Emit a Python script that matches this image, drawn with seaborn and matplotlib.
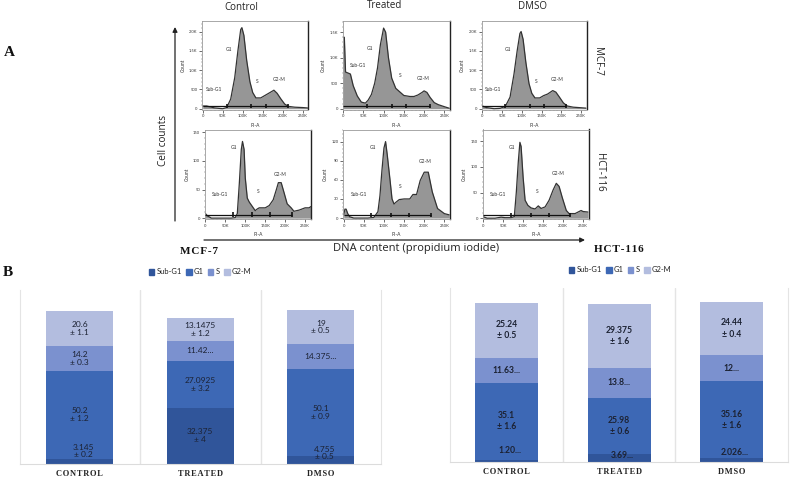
import matplotlib
matplotlib.use("Agg")
import matplotlib.pyplot as plt
import numpy as np
import pandas as pd
import seaborn as sns
from matplotlib.patches import Patch
from matplotlib.ticker import AutoMinorLocator

sns.set_style("white")
plt.rcParams["font.family"] = ["Lato", "DejaVu Sans"]

W, H = 790, 480

# Bar chart values
conditions = ["CONTROL", "TREATED", "DMSO"]
phases = ["Sub-G1", "G1", "S", "G2-M"]
phase_colors = ["#30559a", "#3d68b5", "#7b91cf", "#b3bddf"]

mcf_sub_g1 = [3.145, 32.375, 4.755]
mcf_g1 = [50.2, 27.0925, 50.1]
mcf_s = [14.2, 11.42, 14.375]
mcf_g2m = [20.6, 13.1475, 19]

hct_sub_g1 = [1.2, 3.69, 2.026]
hct_g1 = [35.1, 25.98, 35.16]
hct_s = [11.63, 13.8, 12]
hct_g2m = [25.24, 29.375, 24.44]

mcf_labels = [
    ["3.145\n± 0.2", "32.375\n± 4", "4.755\n± 0.5"],
    ["50.2\n± 1.2", "27.0925\n± 3.2", "50.1\n± 0.9"],
    ["14.2\n± 0.3", "11.42...", "14.375..."],
    ["20.6\n± 1.1", "13.1475\n± 1.2", "19\n± 0.5"],
]
hct_labels = [
    ["1.20...", "3.69...", "2.026..."],
    ["35.1\n± 1.6", "25.98\n± 0.6", "35.16\n± 1.6"],
    ["11.63...", "13.8...", "12..."],
    ["25.24\n± 0.5", "29.375\n± 1.6", "24.44\n± 0.4"],
]

# Flow cytometry histograms, PI-A in thousands against count
mcf_ctrl_x = [0, 10, 30, 50, 60, 70, 80, 88, 95, 98, 103, 110, 118, 125, 133, 145, 155, 165, 178, 186, 195, 205, 215, 230, 250, 262]
mcf_ctrl_y = [70, 70, 20, 0, 30, 250, 800, 1500, 2050, 2100, 1900, 1250, 700, 420, 280, 280, 340, 400, 480, 400, 260, 120, 60, 40, 30, 20]
mcf_trt_x = [0, 3, 6, 12, 18, 25, 35, 45, 55, 62, 70, 78, 85, 92, 100, 105, 112, 120, 130, 150, 165, 175, 185, 195, 200, 207, 215, 225, 235, 250, 262]
mcf_trt_y = [1400, 1400, 720, 700, 680, 450, 250, 130, 110, 170, 280, 500, 800, 1250, 1580, 1500, 1000, 600, 400, 260, 240, 240, 270, 320, 350, 320, 220, 120, 80, 40, 10]
mcf_dmso_x = [0, 10, 30, 45, 58, 70, 80, 88, 95, 98, 103, 110, 118, 125, 133, 145, 155, 165, 178, 186, 195, 205, 215, 230, 250, 262]
mcf_dmso_y = [70, 30, 0, 10, 60, 300, 900, 1500, 1950, 2000, 1800, 1200, 650, 400, 280, 280, 340, 380, 470, 430, 300, 150, 70, 40, 25, 15]
hct_ctrl_x = [0, 5, 15, 40, 65, 75, 80, 85, 90, 93, 97, 100, 105, 110, 118, 125, 130, 135, 150, 160, 170, 178, 183, 190, 197, 205, 215, 222, 235, 250, 260, 264]
hct_ctrl_y = [8, 4, 0, 0, 0, 1, 8, 60, 120, 134, 120, 70, 35, 28, 20, 13, 16, 18, 18, 22, 32, 50, 62, 62, 45, 25, 18, 12, 14, 18, 18, 20]
hct_trt_x = [0, 3, 6, 10, 15, 25, 60, 75, 85, 90, 95, 100, 104, 108, 115, 120, 125, 130, 138, 150, 164, 172, 181, 190, 200, 210, 220, 233, 250, 262]
hct_trt_y = [5, 14, 14, 7, 2, 0, 0, 1, 10, 35, 75, 110, 120, 100, 60, 30, 22, 25, 29, 30, 30, 37, 37, 59, 72, 72, 41, 15, 7, 5]
hct_dmso_x = [0, 10, 30, 45, 55, 70, 78, 83, 88, 92, 95, 100, 105, 112, 120, 130, 138, 145, 155, 165, 175, 183, 190, 198, 208, 215, 230, 245, 250, 262]
hct_dmso_y = [3, 0, 0, 2, 1, 1, 3, 50, 110, 148, 140, 80, 35, 25, 20, 18, 24, 19, 22, 35, 55, 68, 62, 40, 15, 9, 9, 15, 13, 12]

gate_edges = [
    [0, 60, 120, 157, 212],
    [0, 58, 121, 155, 214],
    [0, 56, 120, 157, 212],
    [0, 70, 118, 162, 216],
    [0, 69, 118, 161, 217],
    [0, 70, 119, 164, 217],
]
gate_levels = [65, 50, 65, 6, 5, 6]

x_ticks = [0, 50, 100, 150, 200, 250]
x_tick_labels = ["0", "50K", "100K", "150K", "200K", "250K"]

fig = plt.figure(figsize=(W / 100, H / 100), dpi=100, facecolor="white")


def px_axes(left, top, right, bottom):
    return fig.add_axes([left / W, 1 - bottom / H, (right - left) / W, (bottom - top) / H])


def flow_panel(box, xs, ys, ylim, yticks, yticklabels, edges, level, label_pos):
    ax = px_axes(*box)
    ax.fill_between(xs, ys, color="#969696", linewidth=0)
    sns.lineplot(x=xs, y=ys, ax=ax, color="#333333", linewidth=0.9, errorbar=None)
    ax.set_xlim(-1, 264)
    ax.set_ylim(*ylim)
    ax.set_xticks(x_ticks, x_tick_labels)
    ax.set_yticks(yticks, yticklabels)
    ax.yaxis.set_minor_locator(AutoMinorLocator(5))
    ax.xaxis.set_minor_locator(AutoMinorLocator(5))
    ax.tick_params(which="major", length=2, width=0.5, labelsize=3, pad=1.5, color="#333333", left=True, bottom=True, labelcolor="#333333")
    ax.tick_params(which="minor", length=1, width=0.3, color="#555555", left=True, bottom=True)
    ax.set_xlabel("PI-A", fontsize=3.5, labelpad=3, color="#333333")
    ax.set_ylabel("Count", fontsize=3.5, labelpad=2.5, color="#333333")
    for side in ("top", "left", "bottom"):
        ax.spines[side].set_color("#9a9a9a")
        ax.spines[side].set_linewidth(0.6)
    ax.spines["right"].set_color("#222222")
    ax.spines["right"].set_linewidth(1.0)
    # Gate bars across the phases
    ax.hlines(level, edges[0], edges[-1], color="#111111", linewidth=0.9, zorder=5)
    ax.vlines(edges[1:], level - (ylim[1] * 0.025), level + (ylim[1] * 0.025), color="#111111", linewidth=1.2, zorder=5)
    for name, (lx, ly) in zip(["Sub-G1", "G1", "S", "G2-M"], label_pos):
        ax.text(lx, ly, name, fontsize=3.5, ha="center", va="center", color="#333333")
    return ax


flow_panel((202.3, 20.7, 308.3, 109.5), mcf_ctrl_x, mcf_ctrl_y, (-20, 2280),
           [0, 500, 1000, 1500, 2000], ["0", "500", "1.0K", "1.5K", "2.0K"],
           gate_edges[0], gate_levels[0], [(28, 490), (65, 1530), (136, 710), (190, 745)])
flow_panel((342.7, 20.7, 450, 109.5), mcf_trt_x, mcf_trt_y, (-15, 1725),
           [0, 500, 1000, 1500], ["0", "500", "1.0K", "1.5K"],
           gate_edges[1], gate_levels[1], [(36, 850), (66, 1175), (142, 650), (198, 600)])
flow_panel((482, 20.7, 586.7, 109.5), mcf_dmso_x, mcf_dmso_y, (-20, 2280),
           [0, 500, 1000, 1500, 2000], ["0", "500", "1.0K", "1.5K", "2.0K"],
           gate_edges[2], gate_levels[2], [(28, 490), (65, 1530), (136, 710), (190, 745)])
flow_panel((205, 130, 310.7, 218.7), hct_ctrl_x, hct_ctrl_y, (-1, 154),
           [0, 50, 100, 150], ["0", "50", "100", "150"],
           gate_edges[3], gate_levels[3], [(36, 42), (71, 123), (133, 46), (188, 77)])
flow_panel((343.3, 129.5, 450, 218.7), hct_trt_x, hct_trt_y, (-1, 139),
           [0, 30, 60, 90, 120], ["0", "30", "60", "90", "120"],
           gate_edges[4], gate_levels[4], [(37, 37), (72, 110), (140, 50), (203, 88)])
flow_panel((482.7, 129.5, 588.7, 218.7), hct_dmso_x, hct_dmso_y, (-1, 173),
           [0, 50, 100, 150], ["0", "50", "100", "150"],
           gate_edges[5], gate_levels[5], [(38, 47), (72, 138), (134, 52), (188, 87)])


def stacked_bars(box, series, labels, ymax, label_style, legend_anchor, low_label_y):
    ax = px_axes(*box)
    bottom = np.zeros(len(conditions))
    for vals, name, color in zip(series, phases, phase_colors):
        df = pd.DataFrame({"condition": conditions, "value": vals})
        sns.barplot(data=df, x="condition", y="value", ax=ax, color=color, width=0.56,
                    bottom=bottom, saturation=1, errorbar=None, linewidth=0)
        bottom = bottom + np.array(vals)
    ax.set_xlim(-0.5, 2.5)
    ax.set_ylim(0, ymax)
    ax.set_xlabel("")
    ax.set_ylabel("")
    ax.set_yticks([])
    ax.set_xticks(range(3), ["\u200a".join(c) for c in conditions])
    ax.tick_params(axis="x", length=0, pad=4)
    for tick in ax.get_xticklabels():
        tick.set_fontfamily("Liberation Serif")
        tick.set_fontweight("bold")
        tick.set_fontsize(6)
        tick.set_color("#222222")
    for x in [0.5, 1.5]:
        ax.axvline(x, color="#e4e4e4", linewidth=1, zorder=0)
    for side in ("left", "right"):
        ax.spines[side].set_color("#e4e4e4")
    ax.spines["top"].set_visible(False)
    ax.spines["bottom"].set_color("#dcdcdc")
    # Data labels inside each segment, the thin Sub-G1 ones sit above the segment
    base = np.zeros(len(conditions))
    for vals, texts in zip(series, labels):
        for i, (v, t) in enumerate(zip(vals, texts)):
            small = v < 6
            y = low_label_y[i] if small else base[i] + v / 2
            ax.text(i + (0.03 if small else 0), y, t, ha="center", va="center", color="#1c2233", **label_style)
        base = base + np.array(vals)
    handles = [Patch(color=c, label=n) for n, c in zip(phases, phase_colors)]
    fig.legend(handles=handles, loc="center", bbox_to_anchor=(legend_anchor[0] / W, 1 - legend_anchor[1] / H),
               ncol=4, frameon=False, fontsize=5.4, handlelength=0.75, handleheight=0.75,
               handletextpad=0.3, columnspacing=0.55, labelcolor="#222222")
    return ax


stacked_bars((19.5, 290, 381, 464), [mcf_sub_g1, mcf_g1, mcf_s, mcf_g2m], mcf_labels, 100,
             dict(fontsize=6, fontweight="normal", linespacing=1.15), (200, 272), [7.5, 0, 6.3])
stacked_bars((450.3, 288, 788, 462.3), [hct_sub_g1, hct_g1, hct_s, hct_g2m], hct_labels, 80,
             dict(fontsize=6.2, fontweight="bold", linespacing=1.3), (620, 270), [5.3, 2.9, 4.3])

# Overlay in pixel coordinates for the figure annotations
ov = fig.add_axes([0, 0, 1, 1], facecolor="none")
ov.set_xlim(0, W)
ov.set_ylim(H, 0)
ov.axis("off")

for name, x, y in [("Control", 241.7, 8), ("Treated", 385, 5.5), ("DMSO", 532.7, 6.5)]:
    ov.text(x, y, name, fontsize=7, ha="center", va="center", color="#222222", family="Open Sans")
ov.text(598, 61, "MCF-7", rotation=-90, fontsize=7, ha="center", va="center", color="#222222", family="Open Sans")
ov.text(600, 172, "HCT-116", rotation=-90, fontsize=7, ha="center", va="center", color="#222222", family="Open Sans")
ov.text(164, 141, "Cell counts", rotation=90, fontsize=7.2, ha="center", va="center", color="#222222", family="Open Sans")
ov.text(416, 249, "DNA content (propidium iodide)", fontsize=8, ha="center", va="center", color="#222222", family="Open Sans")
ov.annotate("", xy=(175, 27), xytext=(175, 221), arrowprops=dict(arrowstyle="-|>", color="#222222", lw=0.9, mutation_scale=7, shrinkA=0, shrinkB=0))
ov.annotate("", xy=(585, 240), xytext=(204, 240), arrowprops=dict(arrowstyle="-|>", color="#222222", lw=0.9, mutation_scale=7, shrinkA=0, shrinkB=0))

for text, x, y, size in [("A", 9, 52, 11), ("B", 8, 273, 11), ("MCF-7", 199, 252, 8), ("HCT-116", 619, 250, 8)]:
    spaced = text if len(text) == 1 else "\u200a".join(text)
    ov.text(x, y, spaced, fontsize=size, fontweight="bold", ha="center", va="center", family="Liberation Serif", color="#111111")

fig.savefig("out.png", dpi=100)
